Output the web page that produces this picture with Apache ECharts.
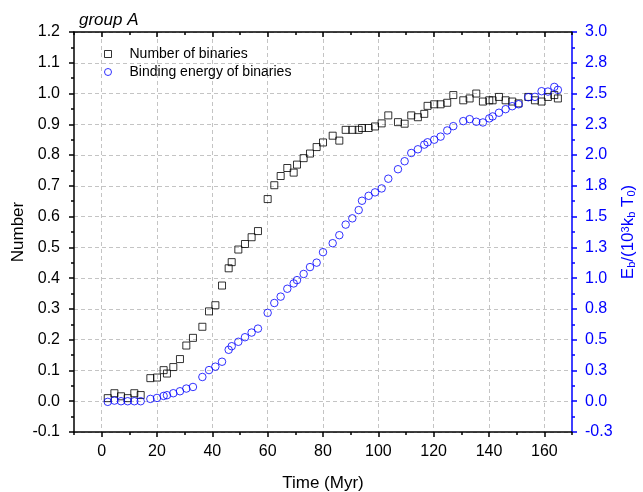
<!DOCTYPE html>
<html>
<head>
<meta charset="utf-8">
<script src="https://cdn.jsdelivr.net/npm/echarts@6/dist/echarts.min.js"></script>
<style>
html,body{margin:0;padding:0;background:#fff;}
#chart{width:643px;height:492px;}
</style>
</head>
<body>
<div id="chart"></div>
<script>
// Time (Myr)
const times = [2.2, 4.6, 7.0, 9.4, 11.8, 14.1, 17.6, 20.0, 22.4, 23.6, 25.9, 28.3, 30.6, 33.0, 36.4, 38.8, 41.1, 43.5, 45.9, 47.0,
  49.4, 51.8, 54.2, 56.5, 60.0, 62.4, 64.7, 67.1, 69.4, 70.6, 73.0, 75.3, 77.7, 80.0, 83.5, 85.9, 88.2, 90.6, 92.9, 94.1,
  96.5, 98.8, 101.2, 103.6, 107.1, 109.5, 111.9, 114.3, 116.6, 117.8, 120.2, 122.5, 124.9, 127.1, 130.7, 133.0, 135.4, 137.8, 140.1, 141.3,
  143.6, 146.0, 148.4, 150.7, 154.2, 156.6, 159.0, 161.3, 163.6, 164.9];
// Number of binaries (left axis)
const numberVals = [0.010, 0.026, 0.016, 0.010, 0.026, 0.020, 0.075, 0.077, 0.101, 0.090, 0.111, 0.137, 0.181, 0.206, 0.242, 0.292, 0.312, 0.376, 0.432, 0.452,
  0.493, 0.511, 0.533, 0.553, 0.657, 0.702, 0.732, 0.758, 0.743, 0.769, 0.790, 0.805, 0.826, 0.841, 0.863, 0.847, 0.882, 0.882, 0.882, 0.888,
  0.888, 0.893, 0.903, 0.929, 0.907, 0.902, 0.929, 0.923, 0.934, 0.960, 0.965, 0.965, 0.970, 0.995, 0.978, 0.984, 1.000, 0.974, 0.978, 0.978,
  0.989, 0.978, 0.974, 0.968, 0.989, 0.978, 0.974, 0.989, 0.995, 0.984];
// Binding energy of binaries (right axis)
const energyVals = [-0.005, 0.005, 0.000, 0.000, 0.000, 0.000, 0.019, 0.027, 0.043, 0.049, 0.065, 0.081, 0.103, 0.116, 0.197, 0.253, 0.281, 0.321, 0.418, 0.447,
  0.483, 0.520, 0.558, 0.590, 0.718, 0.798, 0.850, 0.914, 0.957, 0.984, 1.034, 1.090, 1.126, 1.211, 1.284, 1.349, 1.435, 1.486, 1.553, 1.629,
  1.669, 1.697, 1.729, 1.808, 1.885, 1.950, 2.017, 2.047, 2.085, 2.104, 2.125, 2.150, 2.200, 2.235, 2.276, 2.292, 2.271, 2.265, 2.298, 2.314,
  2.344, 2.373, 2.397, 2.413, 2.470, 2.473, 2.519, 2.516, 2.554, 2.530];
// Tick values / labels
const xMajorTicks = [0, 20, 40, 60, 80, 100, 120, 140, 160];
const xTickLabels = ['0', '20', '40', '60', '80', '100', '120', '140', '160'];
const yLeftTickLabels = ['-0.1', '0.0', '0.1', '0.2', '0.3', '0.4', '0.5', '0.6', '0.7', '0.8', '0.9', '1.0', '1.1', '1.2'];
const yRightTickLabels = ['-0.3', '0.0', '0.3', '0.5', '0.8', '1.0', '1.3', '1.5', '1.8', '2.0', '2.3', '2.5', '2.8', '3.0'];
const seriesNames = ['Number of binaries', 'Binding energy of binaries'];

const FONT = '"Liberation Sans", Arial, sans-serif';
const BLUE = '#0000ff';
const GRIDSTYLE = { color: '#c4c4c4', width: 1, type: [4, 3] };

const chart = echarts.init(document.getElementById('chart'), null, { renderer: 'canvas' });

const xBase = { type: 'value', min: -10, max: 170, gridIndex: 0 };

chart.setOption({
  animation: false,
  backgroundColor: '#fff',
  title: {
    text: 'group A', left: 74, top: 7,
    textStyle: { fontFamily: FONT, fontSize: 17, fontStyle: 'italic', fontWeight: 'normal', color: '#000' }
  },
  legend: {
    orient: 'vertical', left: 99, top: 42, itemWidth: 7, itemHeight: 7, itemGap: 4,
    data: seriesNames,
    itemStyle: { borderWidth: 1 },
    textStyle: { fontFamily: FONT, fontSize: 14, color: '#000', padding: [0, 0, 0, 13] }
  },
  grid: { left: 74, right: 71, top: 32, bottom: 60, show: false, containLabel: false, outerBoundsMode: 'none' },
  xAxis: [
    Object.assign({}, xBase, {
      position: 'bottom',
      name: 'Time (Myr)', nameLocation: 'middle', nameGap: 43, nameMoveOverlap: false,
      nameTextStyle: { fontFamily: FONT, fontSize: 17, color: '#000' },
      axisLine: { show: true, onZero: false, lineStyle: { color: '#000', width: 1.5 } },
      axisTick: { show: true, inside: false, length: 5, customValues: xMajorTicks, lineStyle: { color: '#000', width: 1.5 } },
      axisLabel: {
        fontFamily: FONT, fontSize: 16, color: '#000', margin: 12, customValues: xMajorTicks,
        formatter: v => xTickLabels[xMajorTicks.indexOf(Math.round(v))] || ''
      },
      splitLine: { show: true, customValues: xMajorTicks, lineStyle: GRIDSTYLE }
    }),
    Object.assign({}, xBase, {
      position: 'bottom', interval: 10,
      axisLine: { show: false, onZero: false },
      axisTick: { show: true, inside: false, length: 3, lineStyle: { color: '#000', width: 1.5 } },
      axisLabel: { show: false }, splitLine: { show: false }
    }),
    Object.assign({}, xBase, {
      position: 'top',
      axisLine: { show: true, onZero: false, lineStyle: { color: '#000', width: 1.5 } },
      axisTick: { show: true, inside: true, length: 5, customValues: xMajorTicks, lineStyle: { color: '#000', width: 1.5 } },
      axisLabel: { show: false }, splitLine: { show: false }
    }),
    Object.assign({}, xBase, {
      position: 'top', interval: 10,
      axisLine: { show: false, onZero: false },
      axisTick: { show: true, inside: true, length: 3, lineStyle: { color: '#000', width: 1.5 } },
      axisLabel: { show: false }, splitLine: { show: false }
    })
  ],
  yAxis: [
    {
      type: 'value', position: 'left', min: -0.1, max: 1.2, interval: 0.1,
      name: 'Number', nameLocation: 'middle', nameGap: 47, nameRotate: 90, nameMoveOverlap: false,
      nameTextStyle: { fontFamily: FONT, fontSize: 17, color: '#000' },
      axisLine: { show: true, onZero: false, lineStyle: { color: '#000', width: 1.5 } },
      axisTick: { show: true, inside: false, length: 5, lineStyle: { color: '#000', width: 1.5 } },
      minorTick: { show: true, splitNumber: 2, length: 3, lineStyle: { color: '#000', width: 1.5 } },
      axisLabel: {
        fontFamily: FONT, fontSize: 16, color: '#000', margin: 14,
        formatter: v => yLeftTickLabels[Math.round((v + 0.1) / 0.1)]
      },
      splitLine: { show: true, lineStyle: GRIDSTYLE }
    },
    {
      type: 'value', position: 'right', min: -0.25, max: 3.0, interval: 0.25,
      name: '{m|E}{s|b}{m|/(10}{p|3}{m|k}{s|b}{m| T}{s|0}{m|)}',
      nameLocation: 'middle', nameGap: 48, nameRotate: 90, nameMoveOverlap: false,
      nameTextStyle: {
        fontFamily: FONT, fontSize: 17, color: BLUE,
        rich: {
          m: { fontFamily: FONT, fontSize: 17, color: BLUE },
          s: { fontFamily: FONT, fontSize: 11, color: BLUE, verticalAlign: 'bottom', padding: [6, 0, 0, 0] },
          p: { fontFamily: FONT, fontSize: 11, color: BLUE, verticalAlign: 'top', padding: [0, 0, 6, 0] }
        }
      },
      axisLine: { show: true, onZero: false, lineStyle: { color: BLUE, width: 1.5 } },
      axisTick: { show: true, inside: false, length: 5, lineStyle: { color: BLUE, width: 1.5 } },
      minorTick: { show: true, splitNumber: 2, length: 3, lineStyle: { color: BLUE, width: 1.5 } },
      axisLabel: {
        fontFamily: FONT, fontSize: 16, color: BLUE, margin: 13,
        formatter: v => yRightTickLabels[Math.round((v + 0.25) / 0.25)]
      },
      splitLine: { show: false }
    }
  ],
  series: [
    {
      name: seriesNames[0], type: 'scatter', xAxisIndex: 0, yAxisIndex: 0,
      symbol: 'rect', symbolSize: 7,
      itemStyle: { color: 'rgba(0,0,0,0)', borderColor: '#000', borderWidth: 1 },
      data: times.map((t, i) => [t, numberVals[i]])
    },
    {
      name: seriesNames[1], type: 'scatter', xAxisIndex: 0, yAxisIndex: 1,
      symbol: 'circle', symbolSize: 7.5,
      itemStyle: { color: 'rgba(0,0,0,0)', borderColor: BLUE, borderWidth: 1 },
      data: times.map((t, i) => [t, energyVals[i]])
    }
  ]
});
</script>
</body>
</html>
